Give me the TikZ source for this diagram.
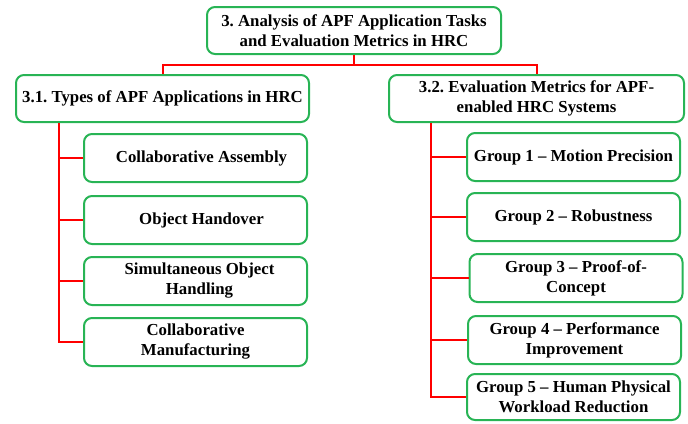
\documentclass[tikz,border=0pt]{standalone}
\usepackage{fontspec}
\setmainfont{Liberation Serif}
\frenchspacing
\definecolor{boxgreen}{RGB}{40,180,85}
\definecolor{linkred}{RGB}{255,0,0}
\begin{document}
\begin{tikzpicture}[x=1pt,y=-1pt,
  box/.style={draw=boxgreen, line width=2pt, rounded corners=8pt, fill=white,
    align=center, inner sep=0pt, font=\fontsize{16.8}{20}\selectfont\bfseries},
  link/.style={draw=linkred, line width=2pt}]
\useasboundingbox (0,0) rectangle (688,423);

% root and the two section headings
\node[box, minimum width=294pt, minimum height=47pt] (root) at (354,30.5)
  {3. Analysis of APF Application Tasks\\and Evaluation Metrics in HRC};
\node[box, minimum width=293pt, minimum height=47pt] (secA) at (162.5,98.5)
  {3.1. Types of APF Applications in HRC};
\node[box, minimum width=295pt, minimum height=47pt] (secB) at (536.5,98.5)
  {3.2. Evaluation Metrics for APF-\\enabled HRC Systems};

% application types
\begin{scope}[every node/.style={box, minimum width=223pt, minimum height=48pt}]
\node (a1) at (195.5,158) {\hspace{12pt}Collaborative Assembly};
\node (a2) at (195.5,220) {\hspace{12pt}Object Handover};
\node (a3) at (195.5,281) {\hspace{8pt}Simultaneous Object\\\hspace{8pt}Handling};
\node (a4) at (195.5,342) {Collaborative\\Manufacturing};
\end{scope}

% evaluation metric groups
\begin{scope}[every node/.style={box, minimum width=213pt, minimum height=48pt}]
\node (g1) at (573.5,157) {Group 1 -- Motion Precision};
\node (g2) at (573.5,217) {Group 2 -- Robustness};
\node (g3) at (576,278) {Group 3 -- Proof-of-\\Concept};
\node (g4) at (574.5,340) {Group 4 -- Performance\\Improvement};
\node[minimum height=46pt] (g5) at (573.5,397) {Group 5 -- Human Physical\\Workload Reduction};
\end{scope}

% connectors
\coordinate (split) at (354,65);
\coordinate (trunkA) at (59,0);
\coordinate (trunkB) at (431,0);

\draw[link] (root.south) -- (split);
\draw[link] (secA.north) |- (split) -| (secB.north);

\draw[link] (secA.south -| trunkA) |- (a4.west);
\foreach \n in {a1,a2,a3}
  \draw[link] (\n.west -| trunkA) -- (\n.west);

\draw[link] (secB.south -| trunkB) |- (g5.west);
\foreach \n in {g1,g2,g3,g4}
  \draw[link] (\n.west -| trunkB) -- (\n.west);
\end{tikzpicture}
\end{document}
